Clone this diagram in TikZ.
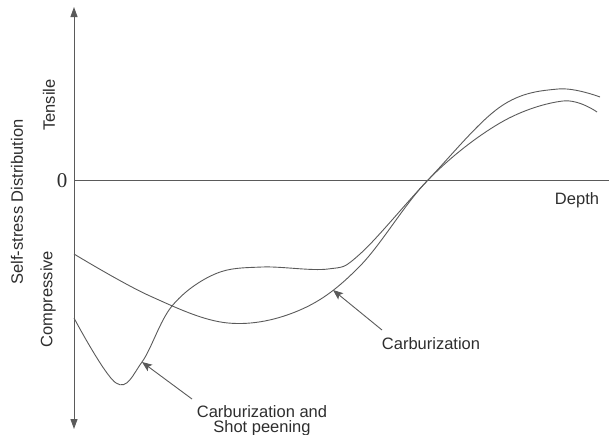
\documentclass[tikz,border=0pt]{standalone}
\usepackage{fontspec}
\setmainfont{Liberation Sans}
\newfontfamily\zerofont{Liberation Serif}
\usetikzlibrary{arrows.meta}
\definecolor{linegray}{HTML}{5A5A5A}
\definecolor{textgray}{HTML}{2E2E2E}
\begin{document}
\begin{tikzpicture}[x=1pt,y=-1pt,
  lbl/.style={inner sep=0pt,text=textgray,font=\fontsize{16.5}{19}\selectfont},
  curve/.style={draw=linegray,line width=0.9pt},
  axis/.style={draw=linegray,line width=1pt},
  pointer/.style={draw=linegray,line width=0.9pt,-{Stealth[length=10pt,width=8pt,inset=2pt]}}]
\useasboundingbox (0,0) rectangle (609,434);
% axes
\coordinate (ytop) at (74,7);
\coordinate (ybot) at (74,429);
\coordinate (origin) at (74,180);
\coordinate (xend) at (609,180);
\draw[axis,{Triangle[length=10pt,width=7pt]}-{Triangle[length=10pt,width=7pt]}] (ybot) -- (ytop);
\draw[axis] (origin) -- (xend);
% labels
\node[lbl,rotate=90] (ylab) at (17,202) {Self-stress Distribution};
\node[lbl,rotate=90] (tens) at (49,105) {Tensile};
\node[lbl,rotate=90] (comp) at (48,299) {Compressive};
\node[inner sep=0pt,text=textgray,font=\zerofont\fontsize{21}{24}\selectfont] (zero) at (62,181) {0};
\node[lbl] (depth) at (577,200) {Depth};
% curve A: carburization
\draw[curve] plot[smooth,tension=0.6] coordinates {
 (74,254) (150,296) (228,323) (300,310) (360,266) (428,180)
 (500,123) (563,101) (597,112)};
% curve B: carburization and shot peening
\draw[curve] plot[smooth,tension=0.6] coordinates {
 (74,318) (116,383) (142,362) (172,306) (215,274) (262,267)
 (328,269) (360,254) (428,180) (500,107) (558,89) (600,97)};
% pointers
\node[lbl,anchor=base] (labA) at (431,349) {Carburization};
\node[lbl,anchor=base] (labB1) at (262,417) {Carburization and};
\node[lbl,anchor=base] (labB2) at (262,432) {Shot peening};
\coordinate (tailA) at (382,330);
\coordinate (tipA) at (333,290);
\coordinate (tailB) at (192,399);
\coordinate (tipB) at (142,362);
\draw[pointer] (tailA) -- (tipA);
\draw[pointer] (tailB) -- (tipB);
\end{tikzpicture}
\end{document}
